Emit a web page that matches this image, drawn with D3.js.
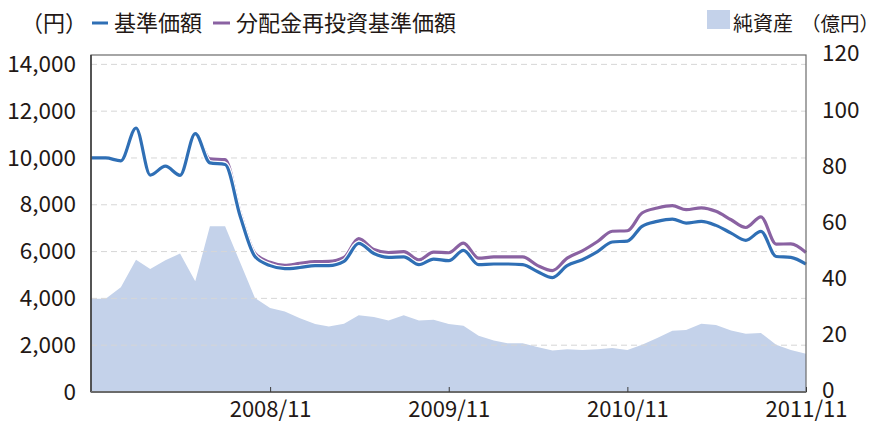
<!DOCTYPE html>
<html>
<head>
<meta charset="utf-8">
<script src="https://cdn.jsdelivr.net/npm/d3@7"></script>
<style>
  body { margin: 0; background: #fff; }
  svg text { font-family: "Noto Sans CJK JP", "Noto Sans", sans-serif; fill: #231815; }
</style>
</head>
<body>
<div id="chart"></div>
<script>
// monthly points 2007/11 .. 2011/11
const months = d3.timeMonth.range(new Date(2007, 10, 1), new Date(2011, 11, 1))
const xTicks = [new Date(2008, 10, 1), new Date(2009, 10, 1), new Date(2010, 10, 1), new Date(2011, 10, 1)]

// 基準価額 (円)
const navValues = [
    10000, 10000, 9880, 11280, 9270, 9650, 9260, 11040, 9790, 9720,
    7500, 5790, 5400, 5270, 5320, 5400, 5400, 5580, 6350, 5920,
    5750, 5770, 5440, 5680, 5610, 6050, 5440, 5470, 5470, 5440,
    5150, 4890, 5400, 5650, 6000, 6410, 6450, 7080, 7290, 7390,
    7220, 7290, 7120, 6790, 6480, 6860, 5790, 5750, 5460
]
// 分配金再投資基準価額 (円)
const reinvValues = [
    10000, 10000, 9880, 11280, 9270, 9650, 9260, 11040, 9960, 9930,
    7650, 5930, 5540, 5410, 5500, 5570, 5580, 5750, 6550, 6090,
    5960, 6000, 5650, 5980, 5950, 6360, 5720, 5770, 5770, 5770,
    5410, 5190, 5720, 6030, 6430, 6870, 6890, 7650, 7860, 7960,
    7790, 7870, 7720, 7360, 7030, 7480, 6320, 6330, 5960
]
// 純資産 (億円)
const assetValues = [
    33.2, 33.2, 37.3, 47.1, 43.8, 46.9, 49.3, 39.4, 59.0, 59.0,
    46.0, 33.5, 29.9, 28.7, 26.3, 24.2, 23.3, 24.3, 27.3, 26.7,
    25.5, 27.3, 25.5, 25.7, 24.2, 23.6, 20.0, 18.3, 17.4, 17.4,
    16.0, 14.8, 15.2, 15.0, 15.2, 15.7, 15.0, 16.8, 19.2, 21.8,
    22.1, 24.3, 23.9, 21.9, 20.7, 21.0, 16.8, 15.0, 13.6
]
const leftTicks = [0, 2000, 4000, 6000, 8000, 10000, 12000, 14000]
const rightTicks = [0, 20, 40, 60, 80, 100, 120]

const width = 880
const height = 423
const marginL = 91
const marginR = 74
const marginT = 55
const marginB = 31
const blue = "#2f6fb5"
const purple = "#8a62a2"
const areaColor = "#c4d2ea"

const svg = d3.select("#chart")
    .append("svg")
    .attr("width", width)
    .attr("height", height)

const x = d3.scaleTime()
    .domain([months[0], months[months.length - 1]])
    .range([marginL, width - marginR])
const yL = d3.scaleLinear()
    .domain([0, 14400])
    .range([height - marginB, marginT])
const yR = d3.scaleLinear()
    .domain([0, 120])
    .range([height - marginB, marginT])

// net assets area
const area = d3.area()
    .x((d, i) => x(months[i]))
    .y0(yR(0))
    .y1(d => yR(d))
svg.append("path")
    .datum(assetValues)
    .attr("d", area)
    .attr("fill", areaColor)

// dashed grid
svg.append("g")
    .selectAll("line")
    .data(leftTicks.filter(d => d > 0))
    .join("line")
    .attr("x1", marginL)
    .attr("x2", width - marginR)
    .attr("y1", d => yL(d))
    .attr("y2", d => yL(d))
    .attr("stroke", "#d6d6d6")
    .attr("stroke-width", 1)
    .attr("stroke-dasharray", "6,4")

// lines: white casing then colour, blue on top
const line = d3.line()
    .x((d, i) => x(months[i]))
    .y(d => yL(d))
    .curve(d3.curveMonotoneX)
const series = [
    { values: reinvValues, color: purple },
    { values: navValues, color: blue }
]
series.forEach(s => {
    svg.append("path")
        .datum(s.values)
        .attr("d", line)
        .attr("fill", "none")
        .attr("stroke", "#fff")
        .attr("stroke-width", 5.5)
        .attr("stroke-linejoin", "round")
    svg.append("path")
        .datum(s.values)
        .attr("d", line)
        .attr("fill", "none")
        .attr("stroke", s.color)
        .attr("stroke-width", 3.2)
        .attr("stroke-linejoin", "round")
})

// frame
svg.append("rect")
    .attr("x", marginL)
    .attr("y", marginT)
    .attr("width", width - marginR - marginL)
    .attr("height", height - marginB - marginT)
    .attr("fill", "none")
    .attr("stroke", "#6b6b6b")
    .attr("stroke-width", 1.2)
svg.append("line")
    .attr("x1", marginL).attr("x2", marginL)
    .attr("y1", marginT).attr("y2", height - marginB)
    .attr("stroke", "#3a3a3a")
    .attr("stroke-width", 1.5)
svg.append("line")
    .attr("x1", marginL).attr("x2", width - marginR)
    .attr("y1", height - marginB).attr("y2", height - marginB)
    .attr("stroke", "#6b6b6b")
    .attr("stroke-width", 2)

// x axis
const xAxis = d3.axisBottom(x)
    .tickValues(xTicks)
    .tickFormat(d3.timeFormat("%Y/%m"))
    .tickSize(0)
svg.append("g")
    .attr("transform", `translate(0,${height - marginB})`)
    .call(xAxis)
    .call(g => g.select(".domain").remove())
    .call(g => g.selectAll(".tick line").attr("y2", -5).attr("stroke", "#3a3a3a"))
    .call(g => g.selectAll("text").attr("font-size", 22).attr("y", 25).attr("dy", 0))

// left axis
svg.append("g")
    .attr("transform", `translate(${marginL},0)`)
    .call(d3.axisLeft(yL).tickValues(leftTicks).tickFormat(d3.format(",")).tickSize(0).tickPadding(15))
    .call(g => g.select(".domain").remove())
    .call(g => g.selectAll("text").attr("font-size", 22.5))

// right axis
svg.append("g")
    .attr("transform", `translate(${width - marginR},0)`)
    .call(d3.axisRight(yR).tickValues(rightTicks).tickSize(0).tickPadding(16))
    .call(g => g.select(".domain").remove())
    .call(g => g.selectAll("text").attr("font-size", 22.5).attr("dy", "0.26em"))

// legend
const legend = svg.append("g").attr("font-size", 22)
legend.append("text").attr("x", 21).attr("y", 31).text("（円）")
legend.append("line").attr("x1", 92).attr("x2", 108).attr("y1", 23).attr("y2", 23)
    .attr("stroke", blue).attr("stroke-width", 3)
legend.append("text").attr("x", 114).attr("y", 31).text("基準価額")
legend.append("line").attr("x1", 213).attr("x2", 230).attr("y1", 23).attr("y2", 23)
    .attr("stroke", purple).attr("stroke-width", 3)
legend.append("text").attr("x", 236).attr("y", 31).text("分配金再投資基準価額")
legend.append("rect").attr("x", 707).attr("y", 10).attr("width", 23).attr("height", 19)
    .attr("fill", areaColor)
legend.append("text").attr("x", 733).attr("y", 31).attr("font-size", 20).text("純資産")
legend.append("text").attr("x", 879).attr("y", 31).attr("font-size", 19.5)
    .attr("text-anchor", "end").text("（億円）")
</script>
</body>
</html>
